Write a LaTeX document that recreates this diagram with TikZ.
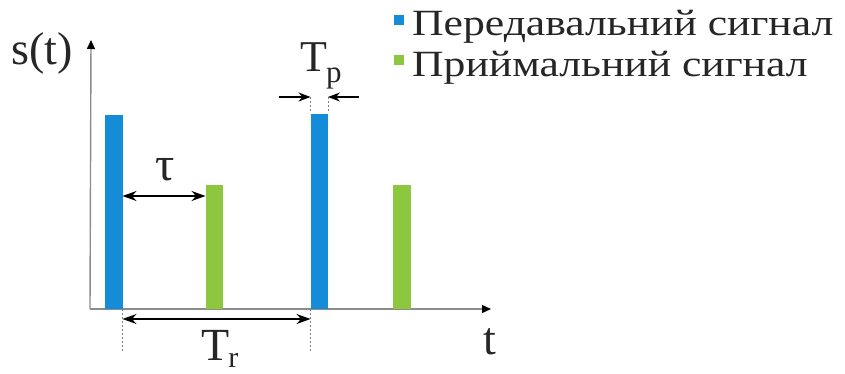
\documentclass[tikz,border=0pt]{standalone}
\usepackage{fontspec}
\setmainfont{Liberation Serif}
\newfontfamily\tnr{Liberation Serif}
\usetikzlibrary{arrows.meta}
\definecolor{txblue}{RGB}{20,140,216}
\definecolor{rxgreen}{RGB}{141,198,63}
\definecolor{axisgray}{RGB}{140,140,140}
\begin{document}
\begin{tikzpicture}[x=1pt,y=-1pt,
  axisline/.style={draw=axisgray,line width=1.4pt},
  axistip/.style={-{Triangle[length=9pt,width=8pt,fill=black,color=black]}},
  dimarrow/.style={line width=1.4pt,{Stealth[length=14pt,width=10pt]}-{Stealth[length=14pt,width=10pt]}},
  onearrow/.style={line width=1.4pt,-{Stealth[length=12pt,width=9pt]}},
  guide/.style={draw=gray,line width=0.8pt,dash pattern=on 2pt off 2pt},
  txbar/.style={fill=txblue,draw=none},
  rxbar/.style={fill=rxgreen,draw=none},
  lbl/.style={inner sep=0pt,text=black!85}]
\useasboundingbox (0,0) rectangle (845,374);
% axes
\coordinate (O) at (90,309);
\coordinate (ytop) at (91,40);
\coordinate (xend) at (491,309);
\draw[axisline,axistip] (O) -- (ytop);
\draw[axisline,axistip] (O) -- (xend);
% bars
\fill[txbar] (105,115) rectangle (122.5,309);
\fill[rxbar] (205.5,185) rectangle (222.5,309);
\fill[txbar] (310.5,114) rectangle (328,309);
\fill[rxbar] (393,185) rectangle (410.5,309);
% coordinates for dimensions
\coordinate (b1r) at (122.5,196);
\coordinate (g1l) at (205.5,196);
\coordinate (g1) at (122.5,309);
\coordinate (g1b) at (122.5,352);
\coordinate (g2) at (310.5,309);
\coordinate (g2b) at (310.5,352);
\coordinate (trl) at (122.5,319);
\coordinate (trr) at (310.5,319);
\coordinate (tpl) at (310.5,97);
\coordinate (tpr) at (328,97);
\coordinate (tpla) at (310.5,113);
\coordinate (tpra) at (328,113);
\coordinate (tplf) at (279,97);
\coordinate (tprf) at (359,97);
% dimension lines
\draw[dimarrow] (b1r) -- (g1l);
\draw[guide] (g1) -- (g1b);
\draw[guide] (g2) -- (g2b);
\draw[dimarrow] (trl) -- (trr);
\draw[guide] (tpl) -- (tpla);
\draw[guide] (tpr) -- (tpra);
\draw[onearrow] (tplf) -- (tpl);
\draw[onearrow] (tprf) -- (tpr);
% labels
\node[lbl,font=\tnr\fontsize{46}{48}\selectfont] (st) at (42,53) {s(t)};
\node[lbl,font=\tnr\fontsize{46}{48}\selectfont] (tl) at (490,342) {t};
\node[lbl,font=\tnr\fontsize{48}{50}\selectfont] (tau) at (165,170) {τ};
\node[lbl,font=\tnr\fontsize{46}{50}\selectfont,anchor=base west] (tr) at (201,360) {T\kern-1pt\raisebox{-7pt}{\fontsize{30}{32}\selectfont r}};
\node[lbl,font=\tnr\fontsize{44}{48}\selectfont,anchor=base west] (tp) at (300,72) {T\kern-1pt\raisebox{-11pt}{\fontsize{31}{33}\selectfont p}};
% legend
\fill[txblue] (394,15) rectangle (404,25) coordinate (lb);
\fill[rxgreen] (394,55) rectangle (404,65) coordinate (lg);
\node[lbl,anchor=base west,font=\tnr\fontsize{37}{40}\selectfont] (l1) at (412,36) {\scalebox{1.18}[1]{Передавальний сигнал}};
\node[lbl,anchor=base west,font=\tnr\fontsize{37}{40}\selectfont] (l2) at (412,77) {\scalebox{1.18}[1]{Приймальний сигнал}};
\end{tikzpicture}
\end{document}
